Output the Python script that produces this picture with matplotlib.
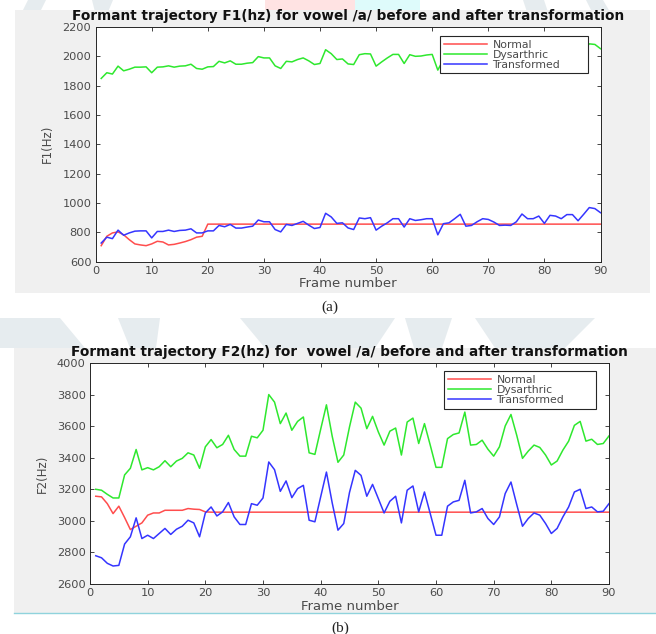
import matplotlib.pyplot as plt
from matplotlib.patches import Rectangle, Polygon
import numpy as np

frames = np.arange(1, 91)

# F1 trajectories (Hz)
normal_f1 = [708, 772, 795, 802, 782, 749, 720, 713, 708, 720,
             738, 733, 713, 717, 726, 736, 749, 766, 772, 855,
             855, 855, 855, 855, 855, 855, 855, 855, 855, 855,
             855, 855, 855, 855, 855, 855, 855, 855, 855, 855,
             855, 855, 855, 855, 855, 855, 855, 855, 855, 855,
             855, 855, 855, 855, 855, 855, 855, 855, 855, 855,
             855, 855, 855, 855, 855, 855, 855, 855, 855, 855,
             855, 855, 855, 855, 855, 855, 855, 855, 855, 855,
             855, 855, 855, 855, 855, 855, 855, 855, 855, 855]
dysarthric_f1 = [1849, 1888, 1879, 1933, 1901, 1912, 1926, 1926, 1928, 1888,
                 1926, 1928, 1935, 1926, 1933, 1935, 1946, 1917, 1912, 1928,
                 1930, 1966, 1955, 1969, 1946, 1946, 1953, 1957, 1998, 1989,
                 1989, 1935, 1917, 1966, 1962, 1978, 1989, 1969, 1944, 1951,
                 2045, 2018, 1978, 1982, 1948, 1944, 2011, 2018, 2016, 1933,
                 1962, 1989, 2013, 2013, 1951, 2011, 2000, 2002, 2009, 2013,
                 1906, 1978, 1984, 2012, 2042, 1961, 1966, 1991, 2012, 2007,
                 1989, 1966, 1968, 1966, 1991, 2044, 2012, 2012, 2030, 1980,
                 2035, 2030, 2012, 2040, 2040, 1998, 2042, 2085, 2081, 2052]
transformed_f1 = [726, 766, 756, 814, 779, 795, 807, 809, 809, 761,
                  805, 805, 814, 805, 812, 814, 823, 795, 795, 809,
                  809, 846, 837, 853, 828, 828, 835, 841, 883, 871,
                  871, 818, 802, 853, 846, 860, 874, 848, 825, 832,
                  929, 904, 860, 864, 829, 818, 897, 892, 899, 814,
                  841, 864, 892, 892, 835, 892, 880, 885, 892, 892,
                  782, 858, 864, 892, 922, 841, 846, 871, 892, 887,
                  869, 846, 848, 846, 871, 924, 892, 892, 910, 860,
                  915, 910, 892, 920, 920, 878, 922, 968, 961, 933]

# F2 trajectories (Hz)
normal_f2 = [3156, 3152, 3109, 3046, 3093, 3021, 2945, 2966, 2987, 3036,
             3050, 3050, 3067, 3067, 3067, 3067, 3078, 3074, 3072, 3057,
             3055, 3055, 3055, 3055, 3055, 3055, 3055, 3055, 3055, 3055,
             3055, 3055, 3055, 3055, 3055, 3055, 3055, 3055, 3055, 3055,
             3055, 3055, 3055, 3055, 3055, 3055, 3055, 3055, 3055, 3055,
             3055, 3055, 3055, 3055, 3055, 3055, 3055, 3055, 3055, 3055,
             3055, 3055, 3055, 3055, 3055, 3055, 3055, 3055, 3055, 3055,
             3055, 3055, 3055, 3055, 3055, 3055, 3055, 3055, 3055, 3055,
             3055, 3055, 3055, 3055, 3055, 3055, 3055, 3055, 3055, 3055]
dysarthric_f2 = [3200, 3194, 3168, 3145, 3145, 3291, 3333, 3452, 3323, 3337,
                 3323, 3343, 3381, 3343, 3379, 3396, 3431, 3417, 3333, 3469,
                 3515, 3463, 3484, 3542, 3452, 3410, 3410, 3536, 3526, 3574,
                 3800, 3752, 3616, 3683, 3574, 3630, 3658, 3431, 3421, 3580,
                 3735, 3536, 3371, 3417, 3595, 3752, 3714, 3584, 3662, 3563,
                 3480, 3568, 3588, 3417, 3626, 3651, 3490, 3616, 3480, 3339,
                 3339, 3521, 3547, 3557, 3689, 3480, 3484, 3511, 3454, 3410,
                 3469, 3601, 3674, 3542, 3396, 3442, 3480, 3465, 3417, 3354,
                 3379, 3448, 3505, 3605, 3630, 3505, 3517, 3484, 3490, 3538]
transformed_f2 = [2779, 2766, 2731, 2714, 2718, 2853, 2899, 3019, 2888, 2909,
                  2888, 2920, 2952, 2914, 2947, 2966, 3004, 2987, 2899, 3050,
                  3088, 3031, 3057, 3116, 3025, 2977, 2977, 3109, 3099, 3145,
                  3373, 3324, 3187, 3253, 3147, 3204, 3225, 3004, 2994, 3152,
                  3309, 3114, 2941, 2983, 3180, 3320, 3288, 3156, 3231, 3141,
                  3050, 3124, 3156, 2987, 3194, 3221, 3057, 3183, 3046, 2909,
                  2909, 3093, 3120, 3130, 3257, 3050, 3057, 3078, 3015, 2977,
                  3025, 3173, 3246, 3103, 2966, 3015, 3050, 3036, 2983, 2920,
                  2952, 3025, 3088, 3183, 3200, 3078, 3088, 3057, 3061, 3109]

panels = [
    {"normal": normal_f1, "dys": dysarthric_f1, "trans": transformed_f1,
     "title": "Formant trajectory F1(hz) for vowel /a/ before and after transformation",
     "ylabel": "F1(Hz)", "ylim": (600, 2200), "caption": "(a)"},
    {"normal": normal_f2, "dys": dysarthric_f2, "trans": transformed_f2,
     "title": "Formant trajectory F2(hz) for  vowel /a/ before and after transformation",
     "ylabel": "F2(Hz)", "ylim": (2600, 4000), "caption": "(b)"},
]

W, H = 656, 634
fig = plt.figure(figsize=(W/100, H/100), dpi=100)
fig.patch.set_facecolor("white")

def px(x0, y0, x1, y1):
    # pixel box (top-left origin) -> figure fraction rect
    return [x0/W, 1 - y1/H, (x1 - x0)/W, (y1 - y0)/H]

# faint logo pieces behind the figure panels
wm = "#e6ecef"
for pts in [[(28, 0), (46, 0), (40, 12), (22, 12)],
            [(92, 0), (113, 0), (108, 12), (95, 12)],
            [(523, 0), (544, 0), (548, 12), (527, 12)],
            [(586, 0), (603, 0), (610, 12), (592, 12)],
            [(0, 318), (60, 318), (85, 348), (0, 348)],
            [(118, 318), (160, 318), (156, 348), (130, 348)],
            [(240, 318), (395, 318), (375, 348), (265, 348)],
            [(405, 318), (452, 318), (442, 348), (414, 348)],
            [(475, 318), (595, 318), (565, 348), (495, 348)]]:
    fig.patches.append(Polygon([(x/W, 1 - y/H) for x, y in pts], closed=True,
                               transform=fig.transFigure, facecolor=wm,
                               edgecolor="none", zorder=-3))
fig.patches.append(Rectangle((265/W, 1 - 10/H), 90/W, 10/H, transform=fig.transFigure,
                             facecolor="#ffe3e3", edgecolor="none", zorder=-3))
fig.patches.append(Rectangle((355/W, 1 - 10/H), 65/W, 10/H, transform=fig.transFigure,
                             facecolor="#defbfb", edgecolor="none", zorder=-3))

# gray figure backgrounds
for box in [px(15, 10, 650, 293), px(14, 348, 656, 613)]:
    fig.patches.append(Rectangle((box[0], box[1]), box[2], box[3],
                                 transform=fig.transFigure, facecolor="#f0f0f0",
                                 edgecolor="none", zorder=-2))
fig.lines.append(plt.Line2D([14/W, 1], [1 - 613/H, 1 - 613/H], transform=fig.transFigure,
                            color="#8fd3dc", lw=1.0))

ax_boxes = [px(95.6, 27, 600.5, 261.5), px(90, 363, 609, 584)]
legend_boxes = [(0.682, 0.962, 0.293), (0.682, 0.964, 0.293)]
captions = [(330, 307), (340, 628)]
ink = "#262626"

for p, box, lb, cap in zip(panels, ax_boxes, legend_boxes, captions):
    ax = fig.add_axes(box)
    ax.plot(frames, p["normal"], color="#ff4d4d", lw=1.1, label="Normal")
    ax.plot(frames, p["dys"], color="#2ee82e", lw=1.1, label="Dysarthric")
    ax.plot(frames, p["trans"], color="#3535ff", lw=1.1, label="Transformed")
    ax.set_xlim(0, 90)
    ax.set_ylim(*p["ylim"])
    ax.set_xticks(np.arange(0, 91, 10))
    ax.set_yticks(np.arange(p["ylim"][0], p["ylim"][1] + 1, 200))
    ax.tick_params(direction="in", top=True, right=True, length=3, width=0.6,
                   colors=ink, labelsize=8.2, labelcolor="#4a4a4a", pad=3)
    for s in ax.spines.values():
        s.set_color(ink)
        s.set_linewidth(0.7)
    ax.set_title(p["title"], fontsize=9.8, fontweight="bold", color="#111111", pad=5)
    ax.set_xlabel("Frame number", fontsize=9.5, color="#4a4a4a", labelpad=1)
    ax.set_ylabel(p["ylabel"], fontsize=8.5, color="#4a4a4a", labelpad=6)
    leg = ax.legend(loc="upper left", bbox_to_anchor=(lb[0], lb[1] - 0.2, lb[2], 0.2),
                    mode="expand", borderaxespad=0, fontsize=7.8, labelspacing=0.0,
                    handlelength=4.0, handletextpad=0.5, borderpad=0.35,
                    fancybox=False, framealpha=1)
    leg.get_frame().set_edgecolor(ink)
    leg.get_frame().set_linewidth(0.8)
    for t in leg.get_texts():
        t.set_color("#4a4a4a")
    fig.text(cap[0]/W, 1 - cap[1]/H, p["caption"], ha="center", va="center",
             fontsize=11, family="Liberation Serif", color="#222222")

plt.savefig("out.png", dpi=100)
